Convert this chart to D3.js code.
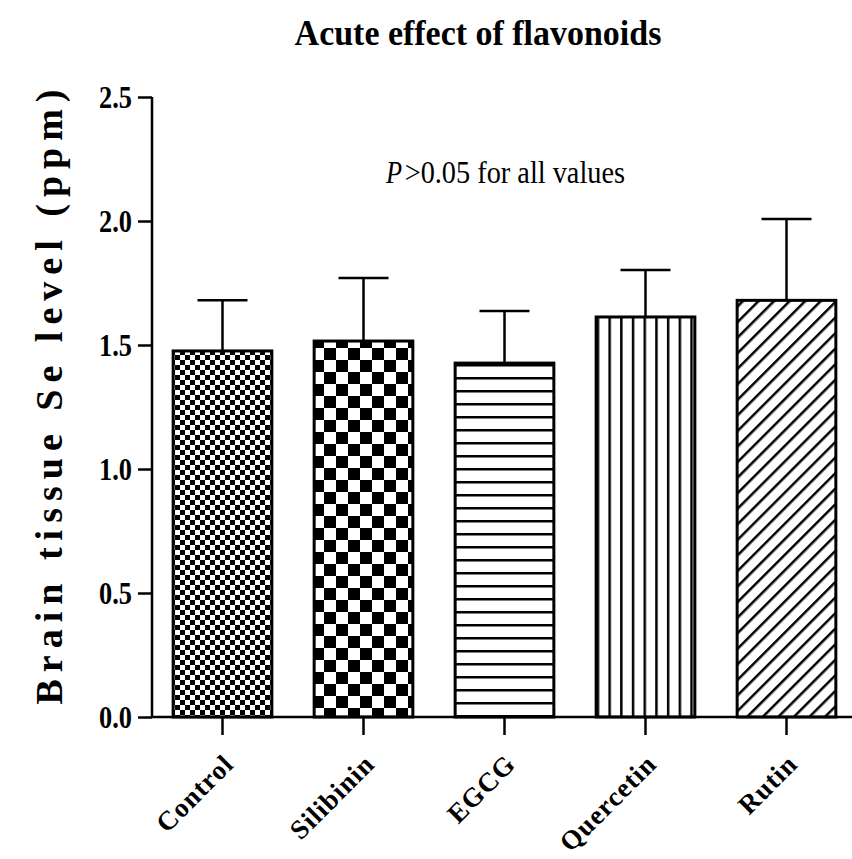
<!DOCTYPE html>
<html>
<head>
<meta charset="utf-8">
<script src="https://cdn.jsdelivr.net/npm/d3@7"></script>
<style>
  body { margin: 0; background: #fff; }
  text { font-family: "Liberation Serif", "DejaVu Serif", serif; fill: #000; }
</style>
</head>
<body>
<div id="chart"></div>
<script>
// Data
const groups = ["Control", "Silibinin", "EGCG", "Quercetin", "Rutin"];
const means = [1.476, 1.516, 1.427, 1.613, 1.68];
const errTops = [1.68, 1.77, 1.637, 1.802, 2.008];
const patterns = ["smallCheck", "bigCheck", "hLines", "vLines", "diag"];
const yTicks = [0.0, 0.5, 1.0, 1.5, 2.0, 2.5];

const width = 852,
      height = 859;

const serif = "'Liberation Serif', 'DejaVu Serif', serif";

const svg = d3.select("#chart")
  .append("svg")
    .attr("width", width)
    .attr("height", height);

// Scales
const x = d3.scaleBand()
    .domain(groups)
    .range([152, 857])
    .paddingInner(0.3)
    .paddingOuter(0.15);

const y = d3.scaleLinear()
    .domain([0, 2.5])
    .range([717, 97]);

// Squeeze a text horizontally (the original uses a condensed face)
function squeeze(sel, k) {
  sel.each(function() {
    const len = this.getComputedTextLength();
    d3.select(this)
        .attr("textLength", len * k)
        .attr("lengthAdjust", "spacingAndGlyphs");
  });
}

///////////////////////////////////////////////////////////////////////////////
// Fill patterns
const defs = svg.append("defs");

function checker(id, s) {
  const p = defs.append("pattern")
      .attr("id", id)
      .attr("patternUnits", "userSpaceOnUse")
      .attr("width", 2 * s)
      .attr("height", 2 * s);
  p.append("rect").attr("width", 2 * s).attr("height", 2 * s).attr("fill", "#fff");
  p.append("rect").attr("width", s).attr("height", s).attr("fill", "#000");
  p.append("rect").attr("x", s).attr("y", s).attr("width", s).attr("height", s).attr("fill", "#000");
}
checker("smallCheck", 5);
checker("bigCheck", 12);

const hp = defs.append("pattern")
    .attr("id", "hLines")
    .attr("patternUnits", "userSpaceOnUse")
    .attr("width", 10).attr("height", 13);
hp.append("rect").attr("width", 10).attr("height", 13).attr("fill", "#fff");
hp.append("rect").attr("y", 0).attr("width", 10).attr("height", 2.5).attr("fill", "#000");

const vp = defs.append("pattern")
    .attr("id", "vLines")
    .attr("patternUnits", "userSpaceOnUse")
    .attr("width", 11.7).attr("height", 10);
vp.append("rect").attr("width", 11.7).attr("height", 10).attr("fill", "#fff");
vp.append("rect").attr("x", 0).attr("width", 2.5).attr("height", 10).attr("fill", "#000");

const dp = defs.append("pattern")
    .attr("id", "diag")
    .attr("patternUnits", "userSpaceOnUse")
    .attr("width", 11).attr("height", 11)
    .attr("patternTransform", "rotate(45)");
dp.append("rect").attr("width", 11).attr("height", 11).attr("fill", "#fff");
dp.append("rect").attr("width", 2.5).attr("height", 11).attr("fill", "#000");

///////////////////////////////////////////////////////////////////////////////
// Title
svg.append("text")
    .attr("x", 478)
    .attr("y", 45)
    .attr("text-anchor", "middle")
    .attr("font-family", serif)
    .attr("font-weight", "bold")
    .attr("font-size", 35)
    .text("Acute effect of flavonoids")
    .call(squeeze, 0.97);

// Y axis label
svg.append("text")
    .attr("transform", "translate(62, 397) rotate(-90)")
    .attr("text-anchor", "middle")
    .attr("font-family", serif)
    .attr("font-weight", "bold")
    .attr("font-size", 38)
    .attr("textLength", 615)
    .attr("lengthAdjust", "spacing")
    .text("Brain tissue Se level (ppm)");

// P value note: italic P, then the rest in upright serif
const noteX = 386, noteEnd = 625;
const noteP = svg.append("text")
    .attr("x", noteX)
    .attr("y", 183)
    .attr("font-family", serif)
    .attr("font-style", "italic")
    .attr("font-weight", "normal")
    .attr("font-size", 31)
    .text("P")
    .call(squeeze, 0.85);

const restX = noteX + noteP.node().getComputedTextLength() * 0.85 + 5;
svg.append("text")
    .attr("x", restX)
    .attr("y", 183)
    .attr("font-family", serif)
    .attr("font-style", "normal")
    .attr("font-weight", "normal")
    .attr("font-size", 31)
    .attr("textLength", noteEnd - restX)
    .attr("lengthAdjust", "spacingAndGlyphs")
    .text(">0.05 for all values");

///////////////////////////////////////////////////////////////////////////////
// Bars
const bars = svg.append("g");

bars.selectAll("rect")
  .data(groups)
  .enter()
  .append("rect")
    .attr("x", d => x(d))
    .attr("y", (d, i) => y(means[i]))
    .attr("width", x.bandwidth())
    .attr("height", (d, i) => y(0) - y(means[i]))
    .attr("fill", (d, i) => `url(#${patterns[i]})`)
    .attr("stroke", "#000")
    .attr("stroke-width", 3);

// Error bars (upper only)
const errG = svg.append("g")
    .attr("stroke", "#000")
    .attr("stroke-width", 2.5);

groups.forEach((g, i) => {
  const cx = x(g) + x.bandwidth() / 2;
  errG.append("line")
      .attr("x1", cx).attr("x2", cx)
      .attr("y1", y(means[i])).attr("y2", y(errTops[i]));
  errG.append("line")
      .attr("x1", cx - 25).attr("x2", cx + 25)
      .attr("y1", y(errTops[i])).attr("y2", y(errTops[i]));
});

///////////////////////////////////////////////////////////////////////////////
// Axes
const yAxis = svg.append("g")
    .attr("transform", "translate(152, 0)")
    .call(d3.axisLeft(y).tickValues(yTicks).tickFormat(d3.format(".1f")).tickSize(14).tickPadding(6));

yAxis.select(".domain").attr("d", `M0,${y(2.5)}V${y(0)}`);
yAxis.selectAll("line, .domain").attr("stroke", "#000").attr("stroke-width", 2.5);
yAxis.selectAll("text")
    .attr("font-family", serif)
    .attr("font-weight", "bold")
    .attr("font-size", 31)
    .attr("dy", "0.35em")
    .call(squeeze, 0.85);

const xAxis = svg.append("g")
    .attr("transform", `translate(0, ${y(0)})`)
    .call(d3.axisBottom(x).tickSize(18).tickSizeOuter(0));

xAxis.select(".domain").attr("d", `M152,0H${width}`);
xAxis.selectAll("line, .domain").attr("stroke", "#000").attr("stroke-width", 2.5);
xAxis.selectAll("text")
    .attr("font-family", serif)
    .attr("font-weight", "bold")
    .attr("font-size", 27)
    .attr("letter-spacing", 1)
    .attr("text-anchor", "end")
    .attr("dy", "0.35em")
    .attr("transform", "translate(6, 42) rotate(-45)")
    .attr("y", 0);
</script>
</body>
</html>
